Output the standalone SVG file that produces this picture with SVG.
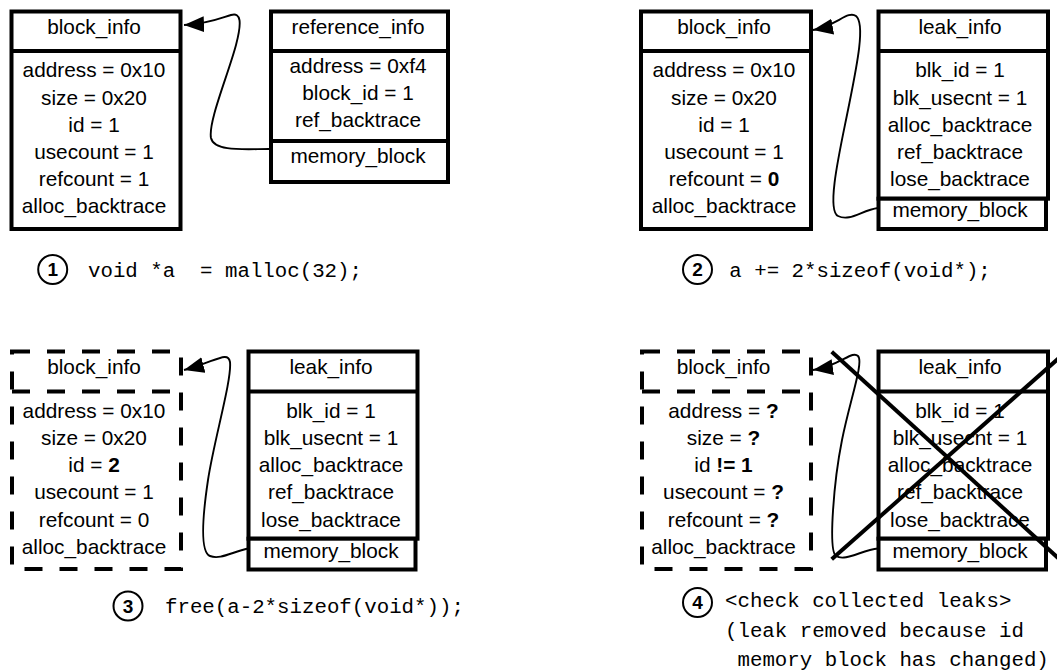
<svg xmlns="http://www.w3.org/2000/svg" width="1057" height="672" viewBox="0 0 1057 672">
  <style>
    .box{fill:#fff;stroke:#000;stroke-width:4}
    .dash{fill:none;stroke:#000;stroke-width:4;stroke-dasharray:18 17}
    .t{font-family:"Liberation Sans",Arial,Helvetica,sans-serif;font-size:20.8px;text-anchor:middle;fill:#000}
    .b{font-weight:bold}
    .code{font-family:"Liberation Mono","DejaVu Sans Mono",monospace;font-size:20.75px;fill:#000}
    .num{font-family:"Liberation Sans",Arial,sans-serif;font-size:19px;font-weight:bold;text-anchor:middle;fill:#000}
    .ring{fill:#fff;stroke:#000;stroke-width:2}
    .link{fill:none;stroke:#000;stroke-width:1.9}
    .cross{stroke:#000;stroke-width:4}
  </style>
  <defs>
    <marker id="arrow" markerWidth="24" markerHeight="18" refX="20" refY="8" orient="auto" markerUnits="userSpaceOnUse">
      <path d="M0,0 L20,8 L0,16 z" fill="#000"/>
    </marker>
  </defs>

  <rect width="1057" height="672" fill="#fff"/>

  <!-- step 1 -->
  <g id="block-info-1">
    <rect class="box" x="11.5" y="11.5" width="169" height="217.5"/>
    <line class="box" x1="11.5" y1="51" x2="180.5" y2="51"/>
    <text class="t" x="94" y="33.5">block_info</text>
    <text class="t" x="94" y="77.3">address = 0x10</text>
    <text class="t" x="94" y="104.5">size = 0x20</text>
    <text class="t" x="94" y="131.7">id = 1</text>
    <text class="t" x="94" y="158.9">usecount = 1</text>
    <text class="t" x="94" y="186.1">refcount = 1</text>
    <text class="t" x="94" y="213.3">alloc_backtrace</text>
  </g>
  <g id="reference-info-1">
    <rect class="box" x="271" y="11.5" width="177" height="170.5"/>
    <line class="box" x1="271" y1="51" x2="448" y2="51"/>
    <line class="box" x1="271" y1="141" x2="448" y2="141"/>
    <text class="t" x="358" y="33.5">reference_info</text>
    <text class="t" x="358" y="73.3">address = 0xf4</text>
    <text class="t" x="358" y="100.3">block_id = 1</text>
    <text class="t" x="358" y="127.3">ref_backtrace</text>
    <text class="t" x="358" y="163.3">memory_block</text>
  </g>
  <g id="step-1">
    <circle class="ring" cx="52.7" cy="269.5" r="14.5"/>
    <text class="num" x="52.7" y="276.3">1</text>
    <text class="code" x="88" y="277" xml:space="preserve">void *a  = malloc(32);</text>
  </g>

  <!-- step 2 -->
  <g id="block-info-2">
    <rect class="box" x="641" y="11.5" width="170" height="217.5"/>
    <line class="box" x1="641" y1="51" x2="811" y2="51"/>
    <text class="t" x="724" y="33.5">block_info</text>
    <text class="t" x="724" y="77.3">address = 0x10</text>
    <text class="t" x="724" y="104.5">size = 0x20</text>
    <text class="t" x="724" y="131.7">id = 1</text>
    <text class="t" x="724" y="158.9">usecount = 1</text>
    <text class="t" x="724" y="186.1">refcount = <tspan class="b">0</tspan></text>
    <text class="t" x="724" y="213.3">alloc_backtrace</text>
  </g>
  <g id="leak-info-2">
    <rect class="box" x="878.5" y="11.5" width="169.5" height="187.2"/>
    <line class="box" x1="878.5" y1="51" x2="1048" y2="51"/>
    <rect class="box" x="878.5" y="198.7" width="167.5" height="30.3"/>
    <text class="t" x="960" y="33.5">leak_info</text>
    <text class="t" x="960" y="77.3">blk_id = 1</text>
    <text class="t" x="960" y="104.5">blk_usecnt = 1</text>
    <text class="t" x="960" y="131.7">alloc_backtrace</text>
    <text class="t" x="960" y="158.9">ref_backtrace</text>
    <text class="t" x="960" y="186.1">lose_backtrace</text>
    <text class="t" x="960" y="217">memory_block</text>
  </g>
  <g id="step-2">
    <circle class="ring" cx="697.5" cy="269.5" r="14.5"/>
    <text class="num" x="697.5" y="276.3">2</text>
    <text class="code" x="729.3" y="277" xml:space="preserve">a += 2*sizeof(void*);</text>
  </g>

  <!-- step 3 -->
  <g id="block-info-3">
    <path class="dash" d="M12,351.5 H181 V569 H12 Z"/>
    <path class="dash" d="M12,391.5 H181"/>
    <text class="t" x="94" y="374">block_info</text>
    <text class="t" x="94" y="417.8">address = 0x10</text>
    <text class="t" x="94" y="445">size = 0x20</text>
    <text class="t" x="94" y="472.2">id = <tspan class="b">2</tspan></text>
    <text class="t" x="94" y="499.4">usecount = 1</text>
    <text class="t" x="94" y="526.6">refcount = 0</text>
    <text class="t" x="94" y="553.8">alloc_backtrace</text>
  </g>
  <g id="leak-info-3">
    <rect class="box" x="248.5" y="351.5" width="169" height="187.2"/>
    <line class="box" x1="248.5" y1="391.5" x2="417.5" y2="391.5"/>
    <rect class="box" x="248.5" y="538.7" width="167" height="30.8"/>
    <text class="t" x="331" y="374">leak_info</text>
    <text class="t" x="331" y="417.8">blk_id = 1</text>
    <text class="t" x="331" y="445">blk_usecnt = 1</text>
    <text class="t" x="331" y="472.2">alloc_backtrace</text>
    <text class="t" x="331" y="499.4">ref_backtrace</text>
    <text class="t" x="331" y="526.6">lose_backtrace</text>
    <text class="t" x="331" y="557.5">memory_block</text>
  </g>
  <g id="step-3">
    <circle class="ring" cx="128" cy="606" r="14.5"/>
    <text class="num" x="128" y="612.8">3</text>
    <text class="code" x="165" y="613" xml:space="preserve">free(a-2*sizeof(void*));</text>
  </g>

  <!-- step 4 -->
  <g id="block-info-4">
    <path class="dash" d="M642,351.5 H811 V569 H642 Z"/>
    <path class="dash" d="M642,391.5 H811"/>
    <text class="t" x="723.5" y="374">block_info</text>
    <text class="t" x="723.5" y="417.8">address = <tspan class="b">?</tspan></text>
    <text class="t" x="723.5" y="445">size = <tspan class="b">?</tspan></text>
    <text class="t" x="723.5" y="472.2">id <tspan class="b">!= 1</tspan></text>
    <text class="t" x="723.5" y="499.4">usecount = <tspan class="b">?</tspan></text>
    <text class="t" x="723.5" y="526.6">refcount = <tspan class="b">?</tspan></text>
    <text class="t" x="723.5" y="553.8">alloc_backtrace</text>
  </g>
  <g id="leak-info-4">
    <rect class="box" x="878.5" y="351.5" width="169.5" height="187.2"/>
    <line class="box" x1="878.5" y1="391.5" x2="1048" y2="391.5"/>
    <rect class="box" x="878.5" y="538.7" width="167.5" height="30.8"/>
    <text class="t" x="960" y="374">leak_info</text>
    <text class="t" x="960" y="417.8">blk_id = 1</text>
    <text class="t" x="960" y="445">blk_usecnt = 1</text>
    <text class="t" x="960" y="472.2">alloc_backtrace</text>
    <text class="t" x="960" y="499.4">ref_backtrace</text>
    <text class="t" x="960" y="526.6">lose_backtrace</text>
    <text class="t" x="960" y="557.5">memory_block</text>
  </g>
  <g id="step-4">
    <circle class="ring" cx="697.5" cy="602.5" r="14.5"/>
    <text class="num" x="697.5" y="609.3">4</text>
    <text class="code" x="725" y="607" xml:space="preserve">&lt;check collected leaks&gt;</text>
    <text class="code" x="725" y="636.5" xml:space="preserve">(leak removed because id</text>
    <text class="code" x="737.5" y="666" xml:space="preserve">memory block has changed)</text>
  </g>

  <!-- memory_block back-pointers -->
  <g id="connectors">
    <path class="link" marker-end="url(#arrow)" d="M269,149 C245,149 214,152 211,138 C208,122 228,75 236,45 C242,22 241,12 231,15 C221,18 208,24 184,25"/>
    <path class="link" marker-end="url(#arrow)" d="M878,208 C862,210 850,222 838,216 C826,210 840,150 848,110 C856,70 866,24 856,16 C848,10 836,26 813,30"/>
    <path class="link" marker-end="url(#arrow)" d="M248,548.5 C232,552 220,560 210,556 C200,552 202,520 208,480 C214,440 232,380 230,362 C228,350 215,362 184,370"/>
    <path class="link" marker-end="url(#arrow)" d="M878,548.5 C862,550 845,562 836,556 C828,550 834,480 842,440 C850,400 864,362 858,356 C852,350 840,366 813,370"/>
  </g>

  <!-- removed leak -->
  <g id="leak-removed">
    <line class="cross" x1="831.7" y1="351.7" x2="1070" y2="568.8"/>
    <line class="cross" x1="831.7" y1="559.3" x2="1070" y2="348.2"/>
  </g>
</svg>
